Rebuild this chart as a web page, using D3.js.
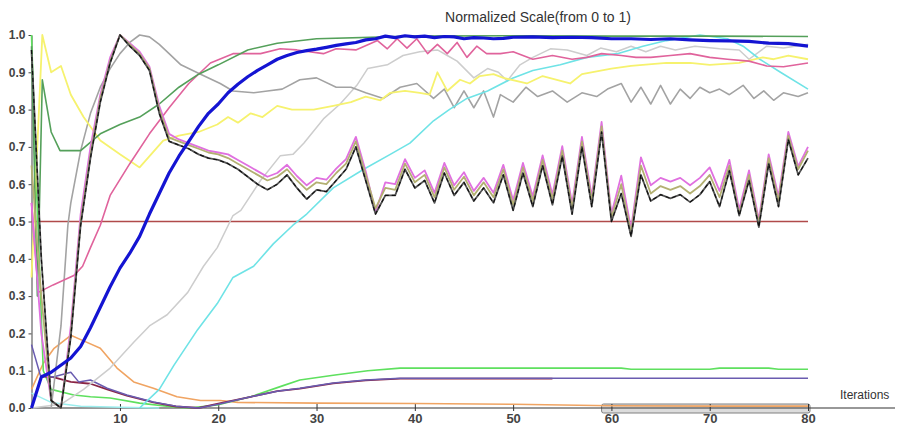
<!DOCTYPE html>
<html>
<head>
<meta charset="utf-8">
<script src="https://cdn.jsdelivr.net/npm/d3@7"></script>
<style>
  body { margin: 0; background: #fff; }
  svg { display: block; }
</style>
</head>
<body>
<div id="chart"></div>
<script>
"use strict";

// == DATA ==  (pairs are [iteration, normalized value])
var blue = [[1,0],[2,0.083],[3,0.096],[5,0.134],[6,0.165],[7,0.215],[8,0.27],[9,0.325],[10,0.375],[11,0.415],[12,0.46],[13,0.52],[14,0.575],[15,0.63],[16,0.675],[17,0.715],[18,0.755],[19,0.79],[20,0.815],[21,0.845],[22,0.868],[23,0.888],[24,0.905],[25,0.92],[26,0.935],[27,0.945],[28,0.953],[29,0.958],[30,0.962],[31,0.967],[32,0.972],[33,0.976],[34,0.98],[35,0.987],[36,0.99],[37,0.997],[38,0.993],[39,0.998],[40,0.995],[41,0.997],[42,0.993],[43,0.996],[44,0.995],[45,0.99],[46,0.993],[47,0.992],[48,0.99],[49,0.991],[50,0.994],[52,0.995],[54,0.993],[56,0.994],[58,0.993],[60,0.99],[62,0.99],[64,0.988],[66,0.99],[68,0.987],[70,0.985],[72,0.984],[74,0.983],[76,0.978],[78,0.977],[80,0.97]];
var darkGreen = [[1,0.97],[1.6,0.3],[2.1,0.88],[3,0.74],[3.9,0.69],[6,0.69],[8,0.735],[10,0.76],[12,0.78],[14,0.815],[16,0.86],[18,0.895],[20,0.92],[23,0.96],[26,0.978],[30,0.99],[40,0.997],[50,0.998],[60,0.997],[70,0.997],[80,0.996]];
var yellow = [[1,0.35],[2.1,1.0],[3,0.9],[4,0.917],[5,0.84],[6.3,0.78],[8,0.717],[10,0.68],[12,0.645],[14.4,0.717],[16,0.73],[18,0.74],[19.9,0.76],[21,0.78],[22,0.765],[23.3,0.79],[24.5,0.78],[26,0.81],[27.5,0.8],[29.7,0.8],[31.7,0.81],[33.5,0.82],[35,0.835],[36.5,0.825],[37.5,0.845],[39,0.85],[40.5,0.845],[41.5,0.84],[42.3,0.9],[43.3,0.85],[44.6,0.88],[45.6,0.87],[46.6,0.89],[48,0.895],[49,0.885],[51.4,0.87],[53,0.89],[55.8,0.87],[57,0.895],[60,0.91],[62,0.917],[65.6,0.925],[68,0.925],[70,0.92],[73,0.925],[75.4,0.94],[76.5,0.935],[78,0.945],[80,0.935]];
var grey = [[3,0],[4,0.22],[4.7,0.49],[5,0.55],[6,0.69],[7,0.79],[8,0.86],[9,0.91],[10,0.95],[11,0.98],[12,1.0],[13,0.995],[14,0.975],[15,0.95],[16.2,0.92],[18.2,0.895],[20.2,0.87],[21.5,0.85],[23.6,0.845],[25,0.85],[26.5,0.855],[28.3,0.88],[30,0.885],[32,0.86],[33.5,0.86],[35,0.845],[36.8,0.83],[38.5,0.86],[40.2,0.87],[41.9,0.83],[43,0.855],[44,0.805],[45,0.85],[46,0.805],[47,0.85],[48,0.78],[48.7,0.84],[50,0.82],[51.3,0.86],[52.5,0.835],[54,0.85],[55.5,0.82],[57,0.845],[58.5,0.835],[59.6,0.855],[61,0.87],[62,0.82],[63,0.86],[64,0.815],[65,0.865],[66,0.815],[67,0.855],[68,0.83],[69,0.86],[70,0.845],[71,0.855],[72,0.84],[73.4,0.865],[74.5,0.83],[75.5,0.85],[76.5,0.825],[77.5,0.845],[79,0.835],[80,0.845]];
var lightGrey = [[1,0],[4,0.01],[6.3,0.05],[9,0.107],[11.4,0.176],[13,0.22],[14.8,0.25],[16.9,0.31],[18.5,0.38],[19.9,0.43],[21.5,0.516],[22.3,0.53],[24.3,0.61],[26.3,0.676],[27.6,0.68],[28.7,0.71],[30.7,0.775],[32.4,0.815],[34.1,0.865],[35.2,0.91],[37.2,0.92],[38.8,0.945],[40.5,0.955],[42.3,0.96],[43.3,0.945],[44.3,0.93],[46,0.885],[47.4,0.91],[48.5,0.9],[49.4,0.877],[50.7,0.92],[52,0.94],[53.8,0.963],[55.5,0.96],[57.5,0.945],[58.9,0.965],[60.5,0.955],[62,0.97],[63.5,0.955],[65,0.97],[66.5,0.96],[68.5,0.97],[71,0.963],[73,0.96],[74,0.935],[75.8,0.97],[77.5,0.965],[80,0.975]];
var cyan = [[12,0],[14,0.05],[15.5,0.115],[17.9,0.21],[19.9,0.28],[21.5,0.35],[23.6,0.38],[25.6,0.44],[27.6,0.49],[29,0.52],[31.7,0.59],[34.8,0.64],[37.5,0.68],[39.5,0.71],[41.9,0.77],[43.5,0.8],[45.3,0.83],[47.4,0.85],[50,0.885],[52,0.905],[54.8,0.92],[57.5,0.94],[60.6,0.95],[63.2,0.97],[65.6,0.985],[69,1.0],[71.8,0.99],[73.4,0.97],[75.1,0.935],[77.2,0.9],[80,0.855]];
var pink = [[1,0.55],[1.7,0.31],[3.2,0.33],[5.3,0.355],[6.2,0.38],[7,0.43],[8,0.49],[9,0.57],[11,0.655],[13,0.735],[15,0.805],[17,0.87],[19.2,0.925],[21.5,0.95],[24.3,0.95],[26.3,0.963],[28,0.96],[30.7,0.95],[32,0.963],[34,0.96],[36.2,0.985],[37.2,0.963],[38.2,0.99],[39.2,0.965],[40.2,0.99],[41.3,0.95],[42.3,0.975],[43.3,0.95],[44.3,0.98],[45.3,0.94],[46.3,0.97],[47.3,0.95],[48.7,0.95],[50,0.955],[52,0.935],[54,0.945],[56,0.935],[57.5,0.94],[59,0.95],[61,0.945],[62.5,0.94],[64,0.94],[66,0.945],[68,0.95],[70,0.94],[71.8,0.935],[74,0.93],[75.8,0.917],[77.5,0.915],[80,0.925]];
var orange = [[1,0.05],[2.2,0.12],[3.3,0.16],[5,0.195],[6.3,0.18],[8,0.16],[9.7,0.107],[11.4,0.07],[13.4,0.053],[15.8,0.03],[18.2,0.02],[20.2,0.02],[22,0.015],[30,0.013],[40,0.012],[50,0.01],[55,0.008],[60,0.006],[70,0.005],[80,0.005]];
var brightGreen = [[1,1.0],[1.5,0.6],[2.2,0.1],[3,0.05],[5.3,0.035],[7,0.03],[9,0.027],[12,0.013],[15.7,0.002],[17,0.0],[19.9,0.008],[23.3,0.03],[26.6,0.06],[28.3,0.075],[31.7,0.088],[35.2,0.1],[38.5,0.107],[61,0.107],[62,0.104],[70,0.104],[71,0.107],[76,0.107],[77,0.104],[80,0.104]];
var purple = [[1,0.17],[1.9,0.088],[3.2,0.083],[5,0.096],[5.8,0.07],[7,0.075],[8.7,0.053],[10.7,0.035],[13.4,0.016],[15.7,0.005],[18,0.0],[20,0.01],[23.3,0.03],[26,0.045],[28.3,0.053],[31.7,0.067],[35,0.075],[38.5,0.08],[80,0.08]];
var darkRed = [[1.9,0.085],[3.2,0.083],[5,0.07],[7,0.065],[8.7,0.05],[10.7,0.033],[13.4,0.015],[15.7,0.004],[18,0.0],[20,0.012],[23.3,0.03],[26,0.045],[28.3,0.052],[31.7,0.066],[35,0.074],[38.5,0.079],[54,0.079]];
var lightCyan = [[1,0.04],[3,0.015],[6,0.005],[10,0.002],[14,0]];
var halfLine = [[1,0.5],[80,0.5]];

// the oscillating bundle, one value per iteration 1..80
var khaki = [0.65,0.3,0.02,0,0.2,0.5,0.68,0.83,0.93,1.0,0.975,0.95,0.91,0.8,0.725,0.715,0.705,0.695,0.685,0.68,0.67,0.655,0.64,0.625,0.61,0.62,0.64,0.61,0.585,0.605,0.6,0.63,0.655,0.715,0.625,0.535,0.59,0.585,0.655,0.605,0.625,0.565,0.645,0.585,0.62,0.57,0.605,0.565,0.64,0.545,0.645,0.555,0.665,0.56,0.69,0.535,0.715,0.555,0.755,0.51,0.6,0.47,0.65,0.575,0.595,0.585,0.595,0.575,0.595,0.625,0.565,0.65,0.52,0.625,0.495,0.67,0.555,0.73,0.64,0.69];
var magenta = [0.55,0.2,0.02,0,0.22,0.52,0.7,0.84,0.94,1.0,0.978,0.955,0.915,0.81,0.735,0.72,0.71,0.7,0.69,0.685,0.68,0.665,0.65,0.635,0.62,0.63,0.652,0.622,0.597,0.617,0.612,0.642,0.667,0.727,0.635,0.525,0.605,0.6,0.667,0.617,0.637,0.577,0.657,0.597,0.632,0.582,0.617,0.577,0.652,0.557,0.657,0.567,0.677,0.572,0.702,0.547,0.727,0.567,0.767,0.52,0.623,0.48,0.672,0.597,0.617,0.607,0.617,0.597,0.617,0.645,0.582,0.665,0.532,0.637,0.505,0.68,0.567,0.74,0.648,0.7];
var dark = [0.96,0.4,0.02,0,0.19,0.49,0.67,0.82,0.925,1.0,0.97,0.945,0.905,0.79,0.715,0.705,0.695,0.68,0.67,0.665,0.655,0.64,0.62,0.6,0.585,0.6,0.625,0.59,0.56,0.585,0.58,0.61,0.64,0.7,0.61,0.52,0.57,0.57,0.64,0.59,0.61,0.55,0.63,0.57,0.605,0.555,0.59,0.55,0.625,0.53,0.63,0.54,0.65,0.545,0.675,0.52,0.7,0.54,0.74,0.5,0.575,0.46,0.625,0.555,0.572,0.562,0.572,0.552,0.572,0.607,0.54,0.636,0.516,0.61,0.485,0.655,0.54,0.72,0.625,0.67];

var xTicks = [10, 20, 30, 40, 50, 60, 70, 80];
var yTicks = [0, 0.1, 0.2, 0.3, 0.4, 0.5, 0.6, 0.7, 0.8, 0.9, 1.0];

// == BOILERPLATE ==
var width = 897, height = 429;

var svg = d3.select("#chart")
            .append("svg")
            .attr("width", width)
            .attr("height", height)
            .style("background", "#fff");

var xScale = d3.scaleLinear().domain([1, 80]).range([31.5, 808]);
var yScale = d3.scaleLinear().domain([0, 1]).range([408, 35]);

var tickFont = "'Liberation Sans', Arial, sans-serif";

// scroll box under the last iterations
svg.append("rect")
   .attr("x", xScale(59))
   .attr("y", yScale(0) - 4)
   .attr("width", xScale(80) - xScale(59) + 2)
   .attr("height", 9)
   .attr("rx", 2)
   .style("fill", "#dcdcdc")
   .style("stroke", "#808080")
   .style("stroke-width", 1);

// x axis
var xAxis = d3.axisBottom(xScale).tickValues(xTicks).tickSize(4).tickSizeOuter(0);
var gx = svg.append("g")
            .attr("transform", "translate(0," + (yScale(0) - 1) + ")")
            .call(xAxis);
gx.select(".domain").remove();
gx.selectAll(".tick line").attr("y1", -3).style("stroke", "#333");
gx.selectAll(".tick text")
  .attr("y", 7)
  .style("font-family", tickFont)
  .style("font-size", "13px")
  .style("font-weight", "bold")
  .style("fill", "#444");

svg.append("line")
   .attr("x1", xScale(1)).attr("x2", 895)
   .attr("y1", yScale(0)).attr("y2", yScale(0))
   .style("stroke", "#333").style("stroke-width", 1.2);

// y axis
var yAxis = d3.axisLeft(yScale).tickValues(yTicks).tickFormat(d3.format(".1f")).tickSize(3).tickSizeOuter(0);
var gy = svg.append("g")
            .attr("transform", "translate(" + xScale(1) + ",0)")
            .call(yAxis);
gy.select(".domain").style("stroke", "#444");
gy.selectAll(".tick line").style("stroke", "#444");
gy.selectAll(".tick text")
  .attr("x", -6)
  .style("font-family", tickFont)
  .style("font-size", "12px")
  .style("font-weight", "bold")
  .style("fill", "#444");

// titles
svg.append("text")
   .attr("x", 538).attr("y", 22)
   .attr("text-anchor", "middle")
   .style("font-family", tickFont)
   .style("font-size", "14px")
   .style("fill", "#333")
   .text("Normalized Scale(from 0 to 1)");

svg.append("text")
   .attr("x", 840).attr("y", 399)
   .style("font-family", tickFont)
   .style("font-size", "12px")
   .style("fill", "#333")
   .text("Iterations");

// == LINES ==
var line = d3.line()
             .x(function(d) { return xScale(d[0]); })
             .y(function(d) { return yScale(d[1]); });

var toPairs = function(values) {
  return values.map(function(v, i) { return [i + 1, v]; });
};

var series = [
  { data: halfLine,    color: "#b04a4a", w: 1.5 },
  { data: lightCyan,   color: "#9ceeee", w: 1.5 },
  { data: orange,      color: "#f0a462", w: 1.6 },
  { data: brightGreen, color: "#5ee05e", w: 1.6 },
  { data: darkRed,     color: "#8a2545", w: 1.8 },
  { data: purple,      color: "#6a5cb0", w: 1.5 },
  { data: lightGrey,   color: "#cdcdcd", w: 1.5 },
  { data: grey,        color: "#a3a3a3", w: 1.6 },
  { data: cyan,        color: "#6fe3e6", w: 1.6 },
  { data: yellow,      color: "#f6f26e", w: 1.8 },
  { data: pink,        color: "#e0639c", w: 1.6 },
  { data: darkGreen,   color: "#54a05a", w: 1.6 },
  { data: toPairs(magenta), color: "#e070e0", w: 1.8 },
  { data: toPairs(khaki),   color: "#b3b072", w: 1.8 },
  { data: toPairs(dark),    color: "#555555", w: 1.8 },
  { data: toPairs(dark),    color: "#111111", w: 1.2, dash: "4,3" },
  { data: blue,        color: "#1414d2", w: 3.2 }
];

svg.selectAll("path.series")
   .data(series)
   .enter()
   .append("path")
   .attr("class", "series")
   .attr("d", function(d) { return line(d.data); })
   .style("fill", "none")
   .style("stroke", function(d) { return d.color; })
   .style("stroke-width", function(d) { return d.w; })
   .style("stroke-dasharray", function(d) { return d.dash || null; })
   .style("stroke-linejoin", "round");
</script>
</body>
</html>
